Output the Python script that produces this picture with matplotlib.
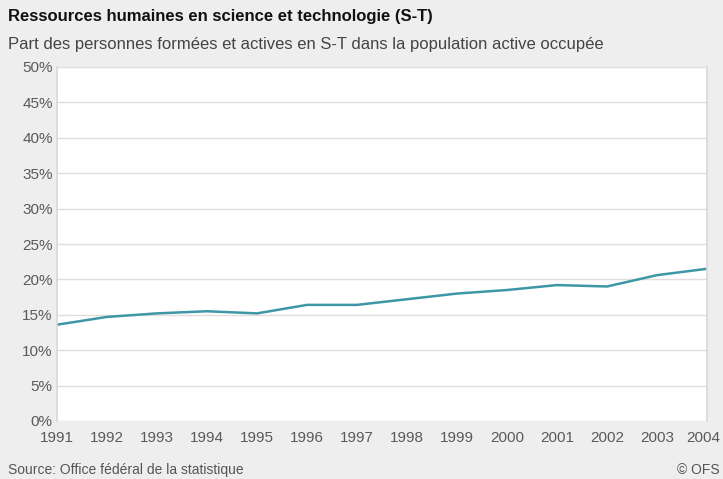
import matplotlib
matplotlib.use("Agg")
import matplotlib.pyplot as plt
import matplotlib.transforms as mtransforms

years = [1991, 1992, 1993, 1994, 1995, 1996, 1997, 1998, 1999, 2000, 2001, 2002, 2003, 2004]
values = [13.6, 14.7, 15.2, 15.5, 15.2, 16.4, 16.4, 17.2, 18.0, 18.5, 19.2, 19.0, 20.6, 21.5]
yticks = [0, 5, 10, 15, 20, 25, 30, 35, 40, 45, 50]

title = "Ressources humaines en science et technologie (S-T)"
subtitle = "Part des personnes formées et actives en S-T dans la population active occupée"
source = "Source: Office fédéral de la statistique"
copyright_txt = "© OFS"

plt.rcParams['font.family'] = ['Liberation Sans', 'DejaVu Sans']

fig = plt.figure(figsize=(7.23, 4.79), dpi=100)
fig.patch.set_facecolor('#efeeee')
ax = fig.add_axes([57/723, 1-421/479, 650/723, 354/479])
ax.set_facecolor('white')

ax.plot(years, values, color='#3d97a7', lw=1.8, solid_joinstyle='round')

ax.set_xlim(years[0], years[-1])
ax.set_ylim(0, 50)
ax.set_yticks(yticks)
ax.set_yticklabels([f"{v}%" for v in yticks])
ax.set_xticks(years)
ax.set_xticklabels([str(y) for y in years])
ax.grid(axis='y', color='#e4dcdc', lw=1)
ax.set_axisbelow(True)
for s in ['top', 'bottom']:
    ax.spines[s].set_visible(False)
for s in ['left', 'right']:
    ax.spines[s].set_color('#dcd6d6')
    ax.spines[s].set_linewidth(1.2)
ax.tick_params(axis='both', length=0, colors='#5a5a5a', labelsize=11)
ax.tick_params(axis='y', pad=3)
ax.tick_params(axis='x', pad=7)

last = ax.get_xticklabels()[-1]
last.set_transform(last.get_transform() + mtransforms.ScaledTranslation(-4/100, 0, fig.dpi_scale_trans))

fig.text(8/723, 1-17/479, title, fontsize=12, fontweight='bold', color='#111111', va='center')
fig.text(8/723, 1-44/479, subtitle, fontsize=12, color='#444444', va='center')
fig.text(8/723, 1-470/479, source, fontsize=10, color='#555555', va='center')
fig.text(720/723, 1-470/479, copyright_txt, fontsize=10, color='#555555', va='center', ha='right')

fig.savefig("out.png", dpi=100, facecolor=fig.get_facecolor())
